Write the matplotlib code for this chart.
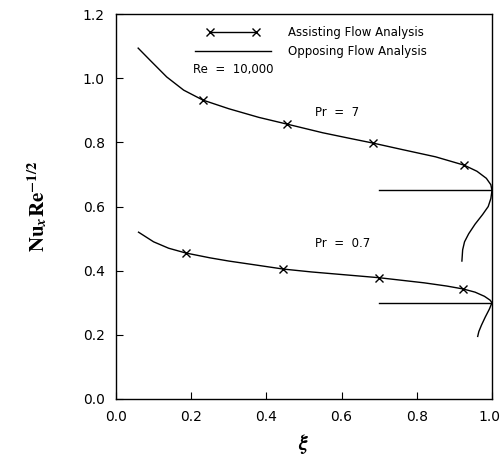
import matplotlib.pyplot as plt
import matplotlib.transforms as mtransforms
from matplotlib.lines import Line2D
from matplotlib.legend_handler import HandlerLine2D

plt.rcParams['mathtext.fontset'] = 'stix'

# Pr = 7, assisting flow (curve + markers)
pr7_x = [0.059, 0.09, 0.135, 0.18, 0.231, 0.30, 0.38, 0.455, 0.55, 0.62, 0.683, 0.76, 0.85, 0.926, 0.96, 0.985, 0.997, 1.0]
pr7_y = [1.094, 1.057, 1.004, 0.963, 0.932, 0.905, 0.878, 0.857, 0.830, 0.813, 0.798, 0.778, 0.755, 0.729, 0.710, 0.688, 0.668, 0.650]
pr7_mx = [0.231, 0.455, 0.683, 0.926]
pr7_my = [0.932, 0.857, 0.798, 0.729]

# Pr = 0.7, assisting flow
pr07_x = [0.06, 0.10, 0.14, 0.186, 0.25, 0.30, 0.37, 0.445, 0.52, 0.58, 0.64, 0.70, 0.76, 0.82, 0.88, 0.923, 0.955, 0.98, 0.995, 1.0]
pr07_y = [0.520, 0.490, 0.470, 0.455, 0.440, 0.430, 0.418, 0.405, 0.396, 0.390, 0.384, 0.378, 0.370, 0.362, 0.352, 0.343, 0.333, 0.320, 0.308, 0.300]
pr07_mx = [0.186, 0.445, 0.70, 0.923]
pr07_my = [0.455, 0.405, 0.378, 0.343]

# opposing flow branches
opp7_x = [0.70, 1.0]
opp7_y = [0.650, 0.650]
opp7b_x = [1.0, 0.997, 0.99, 0.975, 0.955, 0.938, 0.927, 0.922, 0.920]
opp7b_y = [0.650, 0.625, 0.600, 0.575, 0.545, 0.515, 0.490, 0.465, 0.430]
opp07_x = [0.70, 1.0]
opp07_y = [0.300, 0.300]
opp07b_x = [1.0, 0.993, 0.982, 0.972, 0.965, 0.962]
opp07b_y = [0.300, 0.280, 0.255, 0.230, 0.210, 0.195]

fig = plt.figure(figsize=(5.01, 4.71), dpi=100)
ax = fig.add_axes([0.2315, 0.153, 0.7505, 0.817])

lw = 1.0
ax.plot(pr7_x, pr7_y, color='black', lw=lw)
ax.plot(pr7_mx, pr7_my, 'x', color='black', ms=6, mew=1.0)
ax.plot(pr07_x, pr07_y, color='black', lw=lw)
ax.plot(pr07_mx, pr07_my, 'x', color='black', ms=6, mew=1.0)
ax.plot(opp7_x, opp7_y, color='black', lw=lw)
ax.plot(opp7b_x, opp7b_y, color='black', lw=lw)
ax.plot(opp07_x, opp07_y, color='black', lw=lw)
ax.plot(opp07b_x, opp07b_y, color='black', lw=lw)

ax.set_xlim(0, 1.0)
ax.set_ylim(0, 1.2)
ax.set_xticks([0.0, 0.2, 0.4, 0.6, 0.8, 1.0])
ax.set_yticks([0.0, 0.2, 0.4, 0.6, 0.8, 1.0, 1.2])
ax.set_xticklabels(['0.0', '0.2', '0.4', '0.6', '0.8', '1.0'])
ax.set_yticklabels(['0.0', '0.2', '0.4', '0.6', '0.8', '1.0', '1.2'])
ax.tick_params(direction='in', length=5, labelsize=10, pad=8)
for s in ax.spines.values():
    s.set_linewidth(1.0)

# nudge last x tick label so it stays inside the figure
last = ax.get_xticklabels()[-1]
last.set_transform(last.get_transform() + mtransforms.ScaledTranslation(-3 / 100, 0, fig.dpi_scale_trans))

h1 = Line2D([], [], color='black', lw=lw, marker='x', ms=6, mew=1.0)
h2 = Line2D([], [], color='black', lw=lw)
ax.legend([h1, h2], ['Assisting Flow Analysis', 'Opposing Flow Analysis'],
          loc='upper left', bbox_to_anchor=(0.185, 0.985), frameon=False,
          fontsize=8.5, handlelength=7.0, handletextpad=1.2, numpoints=2,
          labelspacing=0.55, borderpad=0,
          handler_map={h1: HandlerLine2D(marker_pad=1.55, numpoints=2)})

ax.text(0.205, 0.855, 'Re  =  10,000', transform=ax.transAxes, fontsize=8.5, va='center')
ax.text(0.53, 0.745, 'Pr  =  7', transform=ax.transAxes, fontsize=8.5, va='center')
ax.text(0.53, 0.405, 'Pr  =  0.7', transform=ax.transAxes, fontsize=8.5, va='center')

ax.set_ylabel(r'$\mathbf{Nu}_{\boldsymbol{x}}\mathbf{Re}^{\mathbf{-1/2}}$', fontsize=15, labelpad=24)
ax.set_xlabel(r'$\boldsymbol{\xi}$', fontsize=15, labelpad=6)

fig.savefig('out.png', dpi=100)
